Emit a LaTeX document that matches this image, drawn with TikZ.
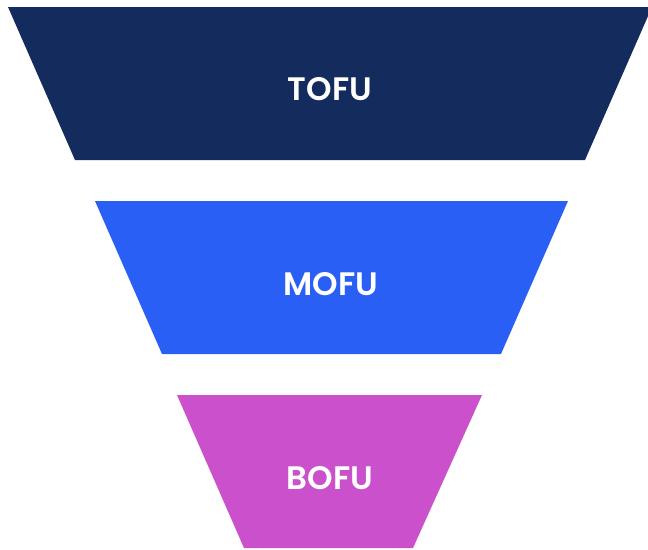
\documentclass[tikz,border=0pt]{standalone}
\usepackage{fontspec}
\setmainfont{Poppins}[BoldFont={Poppins SemiBold}]
\definecolor{tofuc}{HTML}{142B5D}
\definecolor{mofuc}{HTML}{2A5FF5}
\definecolor{bofuc}{HTML}{CB51CC}
\begin{document}
\begin{tikzpicture}[x=1pt,y=-1pt,
  lbl/.style={text=white,font=\fontsize{32.5}{32.5}\selectfont\bfseries,anchor=center}]
\useasboundingbox (0,0) rectangle (648,549);
\fill[tofuc] (8,7) -- (652,7) -- (585,160) -- (75,160) -- cycle;
\fill[mofuc] (95,201) -- (568,201) -- (501,354) -- (162,354) -- cycle;
\fill[bofuc] (177,395) -- (482,395) -- (413,548) -- (244,548) -- cycle;
\node[lbl] (tofu) at (330,89) {TOFU};
\node[lbl] (mofu) at (331,284) {MOFU};
\node[lbl] (bofu) at (330,478) {BOFU};
\end{tikzpicture}
\end{document}
